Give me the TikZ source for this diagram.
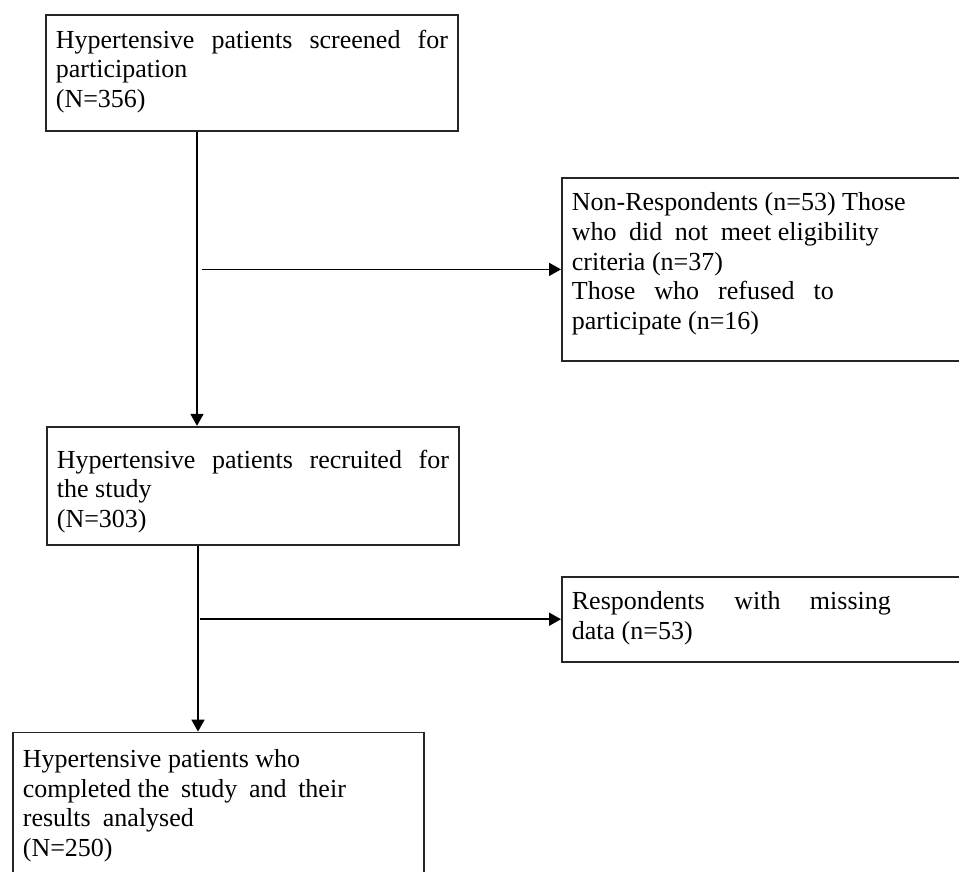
\documentclass[tikz,border=0pt]{standalone}
\usepackage{fontspec}
\setmainfont{Liberation Serif}
\usetikzlibrary{positioning, arrows.meta}

% box text: width, height, content
\newcommand{\flowtext}[3]{\parbox[t][#2][t]{#1}{\sloppy #3}}

\begin{document}
\begin{tikzpicture}[
    flowbox/.style={draw=black!85, line width=1.8pt, anchor=north west, inner xsep=10pt, inner ysep=15pt, font=\fontsize{26}{29.6}\selectfont},
    arr/.style={-{Triangle[length=12pt, width=13pt]}, line width=1.8pt, black}
]
\useasboundingbox (0pt,0pt) rectangle (959pt,-872pt);

% Main flow
\node[flowbox] (screened) at (45pt,-14pt) {\flowtext{392pt}{86pt}{%
    Hypertensive patients screened for\linebreak participation\\(N=356)}};

\node[flowbox, below=294pt of screened.south west, anchor=north west, xshift=1pt] (recruited) {\flowtext{392pt}{88pt}{%
    \vspace*{8pt}Hypertensive patients recruited for\linebreak the study\\(N=303)}};

\node[flowbox, below=186pt of recruited.south west, anchor=north west, xshift=-34pt] (completed) {\flowtext{391pt}{150pt}{%
    \vspace*{2pt}Hypertensive patients who\\
    \makebox[323pt][s]{\mbox{completed the} study and their}\\
    \makebox[171pt][s]{results analysed}\\
    (N=250)}};

% Exclusions
\node[flowbox] (nonresp) at (561pt,-177pt) {\flowtext{400pt}{153pt}{%
    Non-Respondents (n=53) Those\\
    \makebox[307pt][s]{who did not \mbox{meet eligibility}}\\
    criteria (n=37)\\
    \makebox[262pt][s]{Those who refused to}\\
    participate (n=16)}};

\node[flowbox, below=214pt of nonresp.south west, anchor=north west] (missing) {\flowtext{400pt}{55pt}{%
    \makebox[319pt][s]{Respondents with missing}\\
    data (n=53)}};

% Connections
\coordinate (trunk1) at ([xshift=152pt]screened.south west);
\draw[arr] (trunk1) -- (trunk1 |- recruited.north);
\draw[arr] ([xshift=5pt]trunk1 |- nonresp.west) -- (nonresp.west);

\coordinate (trunk2) at ([xshift=152pt]recruited.south west);
\draw[arr] (trunk2) -- (trunk2 |- completed.north);
\draw[arr] ([xshift=2pt]trunk2 |- missing.west) -- (missing.west);

\end{tikzpicture}
\end{document}
